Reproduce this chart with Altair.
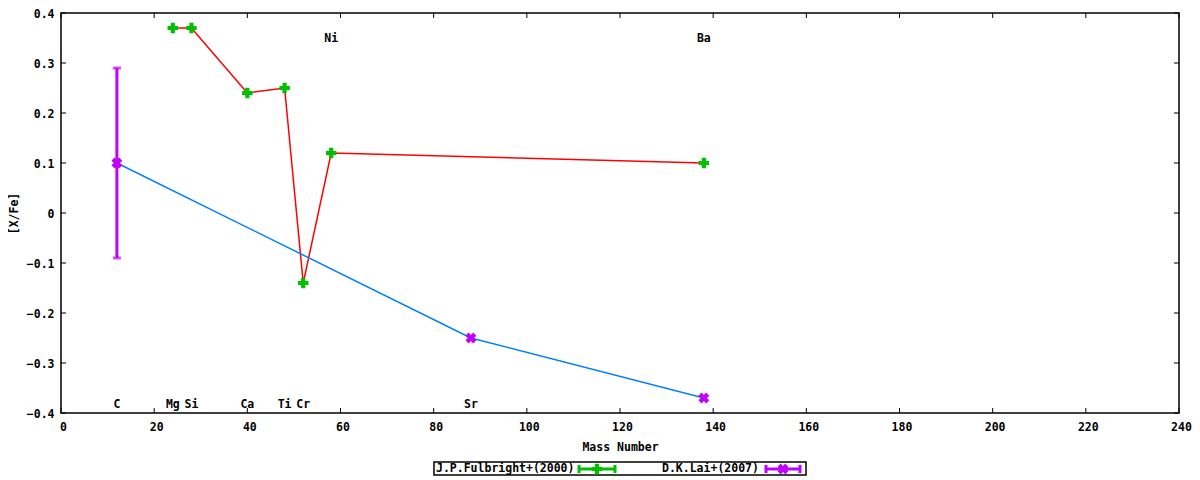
import altair as alt
import pandas as pd

# ---- data ----
ful_mass = [24, 28, 40, 48, 52, 58, 138]
ful_val = [0.37, 0.37, 0.24, 0.25, -0.14, 0.12, 0.10]

lai_mass = [12, 88, 138]
lai_val = [0.10, -0.25, -0.37]
lai_err_mass = [12]
lai_err_lo = [-0.09]
lai_err_hi = [0.29]

top_names = ["Ni", "Ba"]
top_mass = [58, 138]
top_y = [0.352, 0.352]
bot_names = ["C", "Mg", "Si", "Ca", "Ti", "Cr", "Sr"]
bot_mass = [12, 24, 28, 40, 48, 52, 88]
bot_y = [-0.38] * 7

x_ticks = list(range(0, 241, 20))
y_ticks = [-0.4, -0.3, -0.2, -0.1, 0.0, 0.1, 0.2, 0.3, 0.4]

legend_names = ["J.P.Fulbright+(2000)", "D.K.Lai+(2007)"]

# ---- style ----
W, H = 1118, 400
FONT = "DejaVu Sans Mono"
FS = 11.5
RED, BLUE, GREEN, PURPLE = "#ff0000", "#0080ff", "#00c000", "#c000ff"

xs = alt.Scale(domain=[0, 240], nice=False, zero=False)
ys = alt.Scale(domain=[-0.4, 0.4], nice=False, zero=False)

ful = pd.DataFrame({"mass": ful_mass, "val": ful_val})
lai = pd.DataFrame({"mass": lai_mass, "val": lai_val})
err = pd.DataFrame({"mass": lai_err_mass, "lo": lai_err_lo, "hi": lai_err_hi})
labels = pd.DataFrame({"name": top_names + bot_names,
                       "mass": top_mass + bot_mass,
                       "y": top_y + bot_y})
xt = pd.DataFrame({"t": x_ticks})
yt = pd.DataFrame({"t": y_ticks})
one = pd.DataFrame({"k": [0]})

X = alt.X("mass:Q", scale=xs, axis=alt.Axis(
    values=x_ticks, title="Mass Number", grid=False, ticks=False, domain=False,
    labelPadding=8, labelOffset=2, labelFont=FONT, labelFontSize=FS,
    labelFontWeight="bold",
    labelColor="#000", titleFont=FONT, titleFontSize=FS, titleFontWeight="bold",
    titleColor="#000", titleX=W / 2, titleY=34, titleBaseline="middle",
    labelFlush=False))
Y = alt.Y("val:Q", scale=ys, axis=alt.Axis(
    values=y_ticks, title="[X/Fe]", grid=False, ticks=False, domain=False,
    labelPadding=7, labelOffset=1, labelFont=FONT, labelFontSize=FS,
    labelFontWeight="bold",
    labelColor="#000", titleFont=FONT, titleFontSize=FS, titleFontWeight="bold",
    titleColor="#000", titleX=-47, titleY=H / 2, titleBaseline="middle",
    labelExpr="datum.value == 0 ? '0' : format(datum.value, '.1f')",
    labelFlush=False))

red_line = alt.Chart(ful).mark_line(color=RED, strokeWidth=1.5).encode(x=X, y=Y)
blue_line = alt.Chart(lai).mark_line(color=BLUE, strokeWidth=1.5).encode(
    x=alt.X("mass:Q", scale=xs), y=alt.Y("val:Q", scale=ys))

err_bar = alt.Chart(err).mark_rule(color=PURPLE, strokeWidth=3).encode(
    x=alt.X("mass:Q", scale=xs), y=alt.Y("lo:Q", scale=ys), y2="hi:Q")
err_cap_lo = alt.Chart(err).mark_tick(color=PURPLE, thickness=3, size=8,
                                      orient="horizontal").encode(
    x=alt.X("mass:Q", scale=xs), y=alt.Y("lo:Q", scale=ys))
err_cap_hi = alt.Chart(err).mark_tick(color=PURPLE, thickness=3, size=8,
                                      orient="horizontal").encode(
    x=alt.X("mass:Q", scale=xs), y=alt.Y("hi:Q", scale=ys))

ful_pts = alt.Chart(ful).mark_point(shape="cross", filled=True, size=110,
                                    color=GREEN, opacity=1).encode(
    x=alt.X("mass:Q", scale=xs), y=alt.Y("val:Q", scale=ys))
lai_pts = alt.Chart(lai).mark_point(shape="cross", filled=True, size=120,
                                    angle=45, color=PURPLE, opacity=1).encode(
    x=alt.X("mass:Q", scale=xs), y=alt.Y("val:Q", scale=ys))

elem_text = alt.Chart(labels).mark_text(font=FONT, fontSize=FS, fontWeight="bold",
                                        color="#000", baseline="middle",
                                        align="center", dy=2).encode(
    x=alt.X("mass:Q", scale=xs), y=alt.Y("y:Q", scale=ys), text="name:N")

TL = 5
tick_style = dict(color="#000", strokeWidth=1)
xb = alt.Chart(xt).mark_rule(**tick_style).encode(
    x=alt.X("t:Q", scale=xs), y=alt.value(H), y2=alt.value(H - TL))
xtop = alt.Chart(xt).mark_rule(**tick_style).encode(
    x=alt.X("t:Q", scale=xs), y=alt.value(0), y2=alt.value(TL))
yl = alt.Chart(yt).mark_rule(**tick_style).encode(
    y=alt.Y("t:Q", scale=ys), x=alt.value(0), x2=alt.value(TL))
yr = alt.Chart(yt).mark_rule(**tick_style).encode(
    y=alt.Y("t:Q", scale=ys), x=alt.value(W), x2=alt.value(W - TL))

# ---- manual legend (below plot) ----
LY = 456
box = alt.Chart(one).mark_rect(fill="white", stroke="#000", strokeWidth=1.5).encode(
    x=alt.value(373), x2=alt.value(745), y=alt.value(LY - 7), y2=alt.value(LY + 6))
leg_t1 = alt.Chart(one).mark_text(font=FONT, fontSize=FS, fontWeight="bold", color="#000",
                                  align="left", baseline="middle",
                                  text=legend_names[0]).encode(
    x=alt.value(375), y=alt.value(LY))
leg_t2 = alt.Chart(one).mark_text(font=FONT, fontSize=FS, fontWeight="bold", color="#000",
                                  align="left", baseline="middle",
                                  text=legend_names[1]).encode(
    x=alt.value(601), y=alt.value(LY))


def leg_sample(x0, x1, color, shape_kw):
    ln = alt.Chart(one).mark_rule(color=color, strokeWidth=3).encode(
        x=alt.value(x0), x2=alt.value(x1), y=alt.value(LY))
    c1 = alt.Chart(one).mark_rule(color=color, strokeWidth=3).encode(
        x=alt.value(x0), y=alt.value(LY - 4), y2=alt.value(LY + 4))
    c2 = alt.Chart(one).mark_rule(color=color, strokeWidth=3).encode(
        x=alt.value(x1), y=alt.value(LY - 4), y2=alt.value(LY + 4))
    pt = alt.Chart(one).mark_point(filled=True, color=color, opacity=1, **shape_kw).encode(
        x=alt.value((x0 + x1) / 2), y=alt.value(LY))
    return [ln, c1, c2, pt]


leg1 = leg_sample(518, 554, GREEN, dict(shape="cross", size=110))
leg2 = leg_sample(705, 739, PURPLE, dict(shape="cross", size=120, angle=45))

chart = alt.layer(
    red_line, blue_line, err_bar, err_cap_lo, err_cap_hi, ful_pts, lai_pts,
    elem_text, xb, xtop, yl, yr, box, leg_t1, leg_t2, *leg1, *leg2
).properties(
    width=W, height=H,
    autosize=alt.AutoSizeParams(type="none"),
    padding={"left": 53, "top": 5, "right": 13, "bottom": 63},
    background="white",
).configure_view(stroke="#000", strokeWidth=1.5)

chart.save("out.html", embed_options={"renderer": "svg", "actions": False})
